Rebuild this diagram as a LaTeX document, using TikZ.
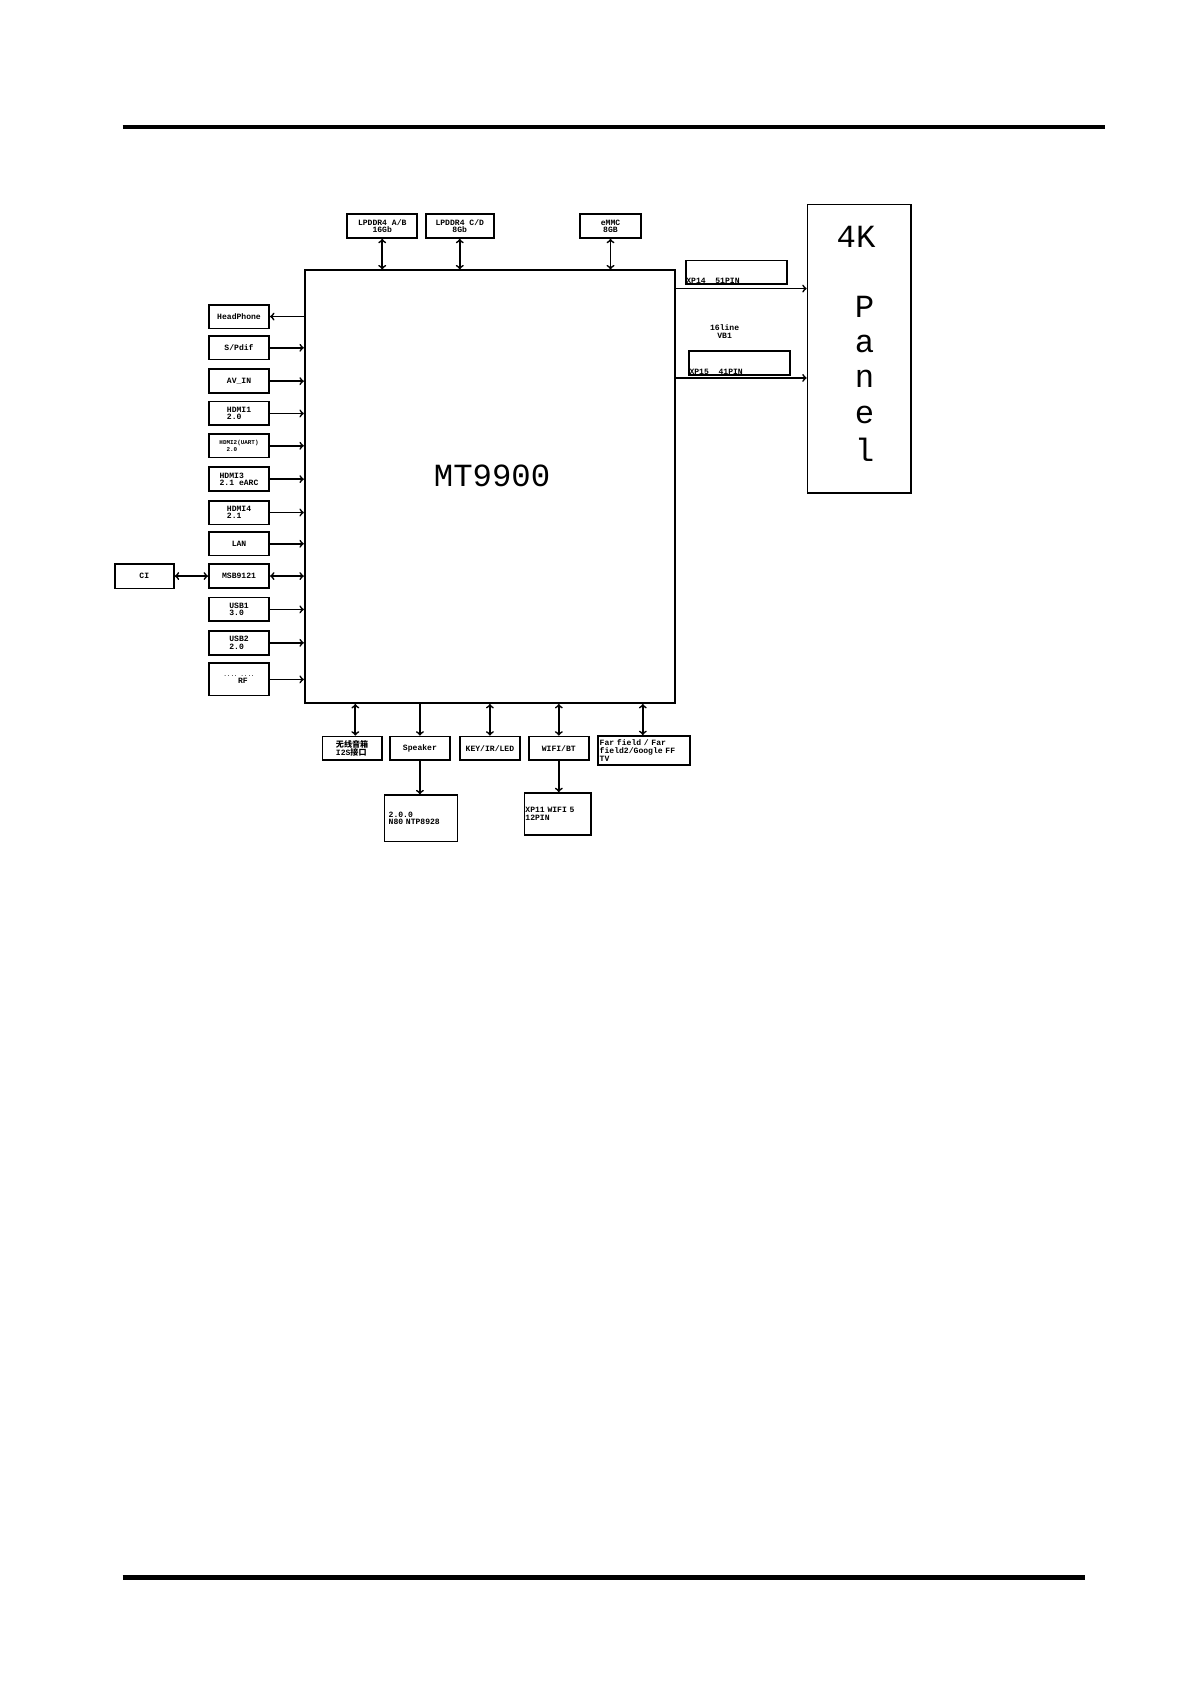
\documentclass[tikz,border=0pt]{standalone}
\usepackage{fontspec}
\setmonofont{Liberation Mono}
\newfontfamily\cjk{Noto Sans CJK SC}
\usetikzlibrary{arrows,calc,positioning}
\tikzset{
        block/.style = {draw, rectangle, line width=1.6pt, inner sep=1pt,
            font=\ttfamily\bfseries\fontsize{7.5}{7}\selectfont, align=left},
        arrow/.style={draw, line width=1.6pt, -to},
        barrow/.style={draw, line width=1.6pt, to-to},
    }
\begin{document}
\begin{tikzpicture}[x=1pt,y=-1pt]
    \useasboundingbox (0,0) rectangle (1106,1564);
    \draw [line width=4pt] (114,118) -- (1026,118);
    \draw [line width=4pt] (114,1465) -- (1008,1465);

    % main chip and panel
    \node [block, minimum width=344pt, minimum height=402pt] (soc) at (455,452) {};
    \node [font=\ttfamily\fontsize{30}{30}\selectfont] at (457,442) {MT9900};
    \node [block, minimum width=96pt, minimum height=268pt] (panel) at (798,324) {};
    \node [font=\ttfamily\fontsize{30}{30}\selectfont] at (795,220) {4K};
    \foreach \ch/\y in {P/285,a/319,n/352,e/385,l/418}
        \node [font=\ttfamily\fontsize{30}{30}\selectfont] at (803,\y) {\ch};

    % panel connectors
    \node [block, minimum width=94pt, minimum height=22pt] (xp14) at (684,253) {};
    \node [font=\ttfamily\bfseries\fontsize{7.5}{7}\selectfont, anchor=south west, inner sep=1pt] at (xp14.south west) {XP14\ \ 51PIN};
    \node [block, minimum width=94pt, minimum height=22pt] (xp15) at (687,337) {};
    \node [font=\ttfamily\bfseries\fontsize{7.5}{7}\selectfont, anchor=south west, inner sep=1pt] at (xp15.south west) {XP15\ \ 41PIN};
    \node [font=\ttfamily\bfseries\fontsize{7.5}{7}\selectfont, align=center] (vb1) at (673,308) {16line\\VB1};
    \draw [arrow] (soc.east |- 0,268) -- (panel.west |- 0,268);
    \draw [arrow] (soc.east |- 0,351) -- (panel.west |- 0,351);

    % memory
    \node [block, minimum width=65pt, minimum height=22pt, align=center] (ddrab) at (355,210) {LPDDR4 A/B\\16Gb};
    \node [block, minimum width=63pt, minimum height=22pt, align=center] (ddrcd) at (427,210) {LPDDR4 C/D\\8Gb};
    \node [block, minimum width=57pt, minimum height=22pt, align=center] (emmc) at (567,210) {eMMC\\8GB};
    \foreach \m in {ddrab,ddrcd,emmc}
        \draw [barrow] (\m.south) -- (\m.south |- soc.north);

    % left side inputs
    \foreach \name/\txt/\y in {spdif/{S/Pdif}/323, avin/AV\_IN/354, hdmia/HDMI1\\2.0/384,
            hdmic/HDMI3\\2.1 eARC/445, hdmid/HDMI4\\2.1/476, lan/LAN/505,
            usba/USB1\\3.0/566, usbb/USB2\\2.0/597}
    {
        \node [block, minimum width=56pt, minimum height=22pt] (\name) at (222,\y) {\txt};
        \draw [arrow] (\name.east) -- (\name.east -| soc.west);
    }
    \node [block, minimum width=56pt, minimum height=22pt,
        font=\ttfamily\bfseries\fontsize{5.5}{6}\selectfont] (hdmib) at (222,414) {HDMI2(UART)\\\ \ 2.0};
    \draw [arrow] (hdmib.east) -- (hdmib.east -| soc.west);
    \node [block, minimum width=56pt, minimum height=30pt,
        font=\ttfamily\bfseries\fontsize{7.5}{6}\selectfont] (rf) at (222,631) {{\tiny ..\,..\ ..\,..}\\\ \ \ RF};
    \draw [arrow] (rf.east) -- (rf.east -| soc.west);
    \node [block, minimum width=56pt, minimum height=22pt] (hp) at (222,294) {HeadPhone};
    \draw [arrow] (hp.east -| soc.west) -- (hp.east);
    \node [block, minimum width=56pt, minimum height=22pt] (msb) at (222,535) {MSB9121};
    \draw [barrow] (msb.east) -- (msb.east -| soc.west);
    \node [block, minimum width=55pt, minimum height=23pt] (ci) at (134,535) {CI};
    \draw [barrow] (ci) -- (msb);

    % bottom peripherals
    \node [block, minimum width=55pt, minimum height=22pt] (i2s) at (327,695) {{\cjk 无线音箱}\\I2S{\cjk 接口}};
    \node [block, minimum width=56pt, minimum height=22pt] (spk) at (390,695) {Speaker};
    \node [block, minimum width=56pt, minimum height=22pt] (key) at (455,695) {KEY/IR/LED};
    \node [block, minimum width=56pt, minimum height=22pt] (wifi) at (519,695) {WIFI/BT};
    \node [block, minimum width=85pt, minimum height=27pt, text width=82pt] (far) at (598,697) {Far field / Far field2/Google FF TV};
    \draw [barrow] (soc.south -| 330,0) -- (i2s.north -| 330,0);
    \draw [arrow] (soc.south -| spk.north) -- (spk.north);
    \draw [barrow] (soc.south -| key.north) -- (key.north);
    \draw [barrow] (soc.south -| wifi.north) -- (wifi.north);
    \draw [barrow] (soc.south -| 597,0) -- (far.north -| 597,0);
    \node [block, minimum width=68pt, minimum height=43pt, text width=60pt] (amp) at (391,760) {2.0.0\\N80 NTP8928\\[10pt]};
    \node [block, minimum width=62pt, minimum height=39pt, text width=60pt] (xp11) at (518,756) {XP11 WIFI 5\\12PIN};
    \draw [arrow] (spk.south) -- (spk.south |- amp.north);
    \draw [arrow] (wifi.south) -- (wifi.south |- xp11.north);
\end{tikzpicture}
\end{document}
